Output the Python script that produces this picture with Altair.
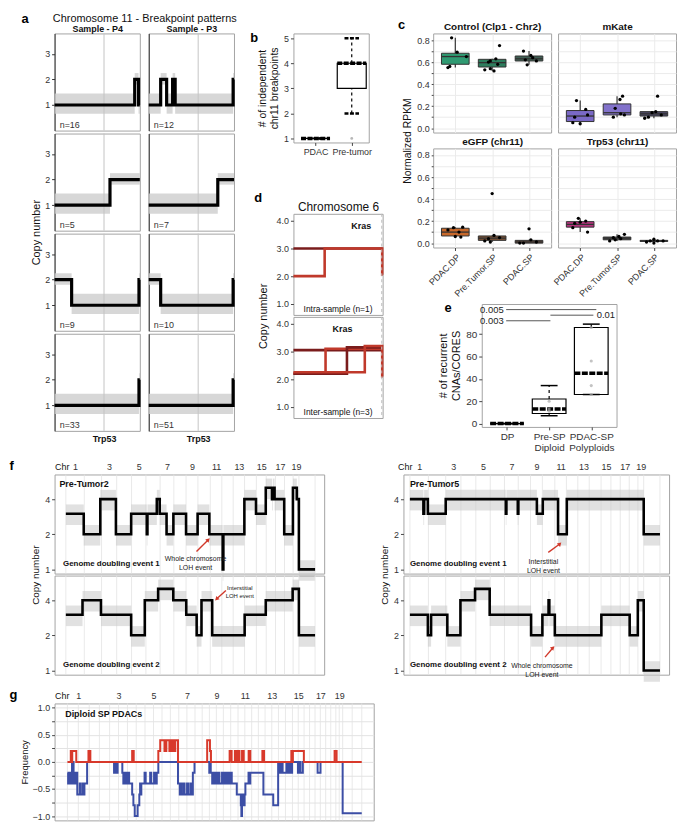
import altair as alt
import pandas as pd

FONT = "Liberation Sans"
FRAME = "#a3a3a3"
LIGHT = "#e3e3e3"
ARROW_RED = "#d1392b"
TC = 200  # tick count large enough to keep every explicit tick value

# ====================== DATA ======================
# ---- a : chromosome 11 breakpoint patterns (x = relative position on chr11) ----
A_SAMPLES = ["Sample - P4", "Sample - P3"]
A_STEPS = [
    [[(0, 1), (0.94, 2), (0.985, 1)], [(0, 1), (0.14, 2), (0.21, 1), (0.28, 2), (0.31, 1), (0.99, 2)]],
    [[(0, 1), (0.65, 2)], [(0, 1), (0.81, 2)]],
    [[(0, 2), (0.2, 1), (0.99, 2)], [(0, 2), (0.14, 1), (0.99, 2)]],
    [[(0, 1), (0.99, 2)], [(0, 1), (0.99, 2)]],
]
A_N = [["n=16", "n=12"], ["n=5", "n=7"], ["n=9", "n=10"], ["n=33", "n=51"]]
A_TRP53 = 0.58
A_NOISE_LO = {1: 0.66, 2: 1.8}
A_NOISE_HI = {1: 1.45, 2: 2.25}

# ---- b ----
B_CATS = ["PDAC", "Pre-tumor"]
B_Q1 = [1, 3]
B_MED = [1, 4]
B_Q3 = [1, 4]
B_LO = [1, 2]
B_HI = [1, 5]
B_OUT_X = [1]
B_OUT_Y = [1]

# ---- c ----
C_PANELS = ["Control (Clp1 - Chr2)", "mKate", "eGFP (chr11)", "Trp53 (chr11)"]
C_GROUPS = ["PDAC.DP", "Pre.Tumor.SP", "PDAC.SP"]
C_COLORS = [["#2f9a72", "#2d7d5d", "#3f5f53"],
            ["#7a69c6", "#8272cb", "#4c4965"],
            ["#c8682a", "#7d5234", "#5e4331"],
            ["#b83480", "#4a4a4a", "#3d3d3d"]]
C_Q1 = [[0.58, 0.555, 0.61], [0.06, 0.12, 0.11], [0.065, 0.025, 0.0], [0.145, 0.03, 0.015]]
C_MED = [[0.65, 0.595, 0.63], [0.11, 0.14, 0.13], [0.10, 0.045, 0.01], [0.17, 0.045, 0.02]]
C_Q3 = [[0.68, 0.625, 0.655], [0.16, 0.22, 0.15], [0.135, 0.065, 0.025], [0.195, 0.055, 0.025]]
C_LO = [[0.55, 0.52, 0.575], [0.04, 0.10, 0.09], [0.055, 0.01, 0.0], [0.10, 0.02, 0.0]]
C_HI = [[0.82, 0.63, 0.70], [0.25, 0.29, 0.15], [0.145, 0.07, 0.03], [0.225, 0.08, 0.035]]
C_PTS = [
    [[0.82, 0.69, 0.65, 0.56, 0.55], [0.75, 0.63, 0.61, 0.60, 0.58, 0.54, 0.53, 0.52], [0.70, 0.66, 0.64, 0.62, 0.61, 0.575]],
    [[0.25, 0.17, 0.12, 0.10, 0.05, 0.04], [0.29, 0.26, 0.18, 0.13, 0.12, 0.10], [0.29, 0.15, 0.14, 0.12, 0.10, 0.09]],
    [[0.145, 0.14, 0.12, 0.10, 0.06, 0.055], [0.45, 0.07, 0.05, 0.04, 0.02, 0.01], [0.13, 0.03, 0.01, 0.0, 0.0]],
    [[0.225, 0.20, 0.19, 0.18, 0.14, 0.10], [0.08, 0.06, 0.05, 0.04, 0.03, 0.02], [0.035, 0.02, 0.02, 0.02, 0.01, 0.0]],
]
C_DX = [
    [[-0.1, 0.05, 0.3, -0.15, -0.2], [0.2, 0.1, -0.05, -0.1, 0.15, -0.05, -0.2, 0.05], [-0.15, 0.05, 0.1, -0.1, 0.2, -0.05]],
    [[-0.1, 0.15, 0.2, -0.15, -0.2, 0.0], [0.15, 0.08, -0.05, 0.1, 0.2, -0.1], [0.1, 0.05, -0.05, 0.2, -0.15, -0.25]],
    [[0.2, -0.05, -0.2, 0.1, 0.0, 0.15], [0.0, 0.05, 0.2, -0.1, -0.2, -0.05], [0.0, 0.05, 0.2, -0.15, -0.25]],
    [[-0.05, 0.15, 0.0, -0.15, -0.2, 0.2], [0.2, 0.05, -0.1, 0.1, -0.05, -0.2], [0.0, 0.25, 0.1, -0.1, -0.2, 0.0]],
]

# ---- d ----
D_TOP_STEPS = [[(0, 3.0)], [(0, 2.0), (0.35, 3.0), (0.995, 2.05)]]
D_TOP_COLORS = ["#7a1c1c", "#c0392b"]
D_BOT_STEPS = [[(0, 3.05)], [(0, 2.2), (0.36, 3.1)], [(0, 2.2), (0.6, 3.15)], [(0, 2.25), (0.8, 3.2), (0.995, 2.1)]]
D_BOT_COLORS = ["#e57a5f", "#8e1b1b", "#a82626", "#6e1111"]
D_KRAS = 0.99
D_KRAS_TX = [0.76, 0.55]
D_LABELS = ["Intra-sample (n=1)", "Inter-sample (n=3)"]

# ---- e ----
E_CATS = [["DP"], ["Pre-SP", "Diploid"], ["PDAC-SP", "Polyploids"]]
E_Q1 = [0, 9, 26]
E_MED = [0, 13, 45]
E_Q3 = [0, 22, 86]
E_LO = [0, 7, 26]
E_HI = [0, 34, 89]
E_PT_X = [1, 1, 1, 2, 2, 2, 2]
E_PT_Y = [20, 11, 13, 86, 56, 34, 26]
E_SIG_TEXT = ["0.005", "0.01", "0.003"]
E_SIG_X1 = [-0.02, 1.03, -0.02]
E_SIG_X2 = [2.12, 2.05, 1.03]
E_SIG_Y = [102, 97, 92]
E_SIG_SIDE = ["left", "right", "left"]

# ---- chromosomes (mouse, Mb) ----
CHR_NAMES = [str(i) for i in range(1, 20)] + ["X"]
CHR_SIZES = [195, 182, 160, 157, 152, 150, 145, 129, 125, 131, 122, 120, 120, 125, 104, 98, 95, 91, 61, 171]

# ---- f : copy-number step profiles (start Mb, copy number) ----
F_L1 = [(0, 3), (189, 2), (364, 4), (529, 2), (690, 3), (855, 2), (862, 3), (961, 4), (992, 3), (1064, 2),
        (1136, 3), (1270, 2), (1392, 3), (1516, 2), (1657, 1), (1664, 2), (1886, 4), (2009, 3), (2112, 5),
        (2178, 4), (2186, 5), (2205, 4), (2307, 2), (2399, 5), (2440, 4), (2462, 1)]
F_L2 = [(0, 3), (176, 4), (371, 3), (690, 2), (834, 4), (975, 5), (1135, 4), (1272, 3), (1382, 2),
        (1433, 4), (1546, 2), (1889, 3), (2112, 4), (2396, 5), (2462, 2)]
F_R1 = [(0, 4), (142, 3), (150, 4), (189, 3), (377, 4), (1010, 3), (1016, 4), (1136, 3), (1142, 4),
        (1337, 3), (1399, 4), (1560, 2), (1652, 4), (2462, 2)]
F_R2 = [(0, 3), (189, 2), (223, 3), (394, 2), (532, 4), (686, 5), (840, 3), (1276, 2), (1395, 3),
        (1460, 4), (1468, 3), (1526, 2), (2016, 3), (2314, 2), (2400, 4), (2462, 1)]
F_NAMES = ["Pre-Tumor2", "Pre-Tumor5"]
F_EVENTS = ["Genome doubling event 1", "Genome doubling event 2"]
F_ANN_TEXT = ["Whole chromosome\nLOH event", "Interstitial\nLOH event",
              "Interstitial\nLOH event", "Whole chromosome\nLOH event"]
F_ANN_X = [1370, 1838, 1406, 1390]
F_ANN_Y = [1.22, 5.1, 1.15, 1.1]
F_ANN_SIZE = [7, 6, 7, 7]
F_ARR_X1 = [1380, 1691, 1457, 1423]
F_ARR_Y1 = [1.42, 4.85, 1.40, 1.30]
F_ARR_X2 = [1500, 1597, 1574, 1502]
F_ARR_Y2 = [1.78, 4.13, 1.64, 1.55]

# ---- g : frequency of gains / losses ----
G_GAIN = [(0, 0), (30, 0.2), (38, 0), (43, 0.2), (79, 0), (188, 0.2), (205, 0), (579, 0.2), (593, 0),
          (813, 0.2), (830, 0.4), (868, 0.2), (885, 0.4), (912, 0.2), (925, 0.4), (935, 0.2), (945, 0.4),
          (955, 0.2), (965, 0.4), (989, 0), (1250, 0.4), (1275, 0.2), (1284, 0), (1451, 0.2), (1469, 0),
          (1498, 0.2), (1510, 0), (1515, 0.2), (1525, 0), (1530, 0.2), (1539, 0), (1562, 0.2), (1577, 0),
          (1621, 0.2), (1636, 0), (1744, 0.2), (1759, 0), (2003, 0.2), (2010, 0), (2017, 0.2), (2115, 0),
          (2390, 0.2), (2408, 0)]
G_LOSS = [(0, -0.2), (6, -0.4), (12, -0.2), (18, -0.4), (26, -0.2), (33, -0.4), (41, 0), (45, -0.4), (50, 0),
          (55, -0.2), (60, -0.4), (66, -0.2), (72, -0.4), (80, -0.2), (88, -0.6), (110, -0.4), (116, -0.6),
          (135, -0.4), (140, -0.6), (152, -0.4), (176, 0),
          (417, -0.2), (425, 0), (432, -0.2), (449, 0),
          (491, -0.2), (500, -0.4), (508, -0.2), (516, -0.4), (525, -0.2), (533, -0.4), (545, -0.2), (552, -0.4),
          (579, -0.6), (590, -0.8), (602, -1.0), (628, -0.8), (643, -0.6), (650, -0.4), (655, -0.6), (661, -0.4),
          (690, -0.2), (700, -0.4), (740, -0.2), (750, -0.4), (775, -0.2), (785, -0.4), (799, -0.2), (813, 0),
          (989, -0.4), (1005, -0.6), (1015, -0.4), (1022, -0.6), (1040, -0.4), (1048, -0.6), (1070, -0.4),
          (1080, -0.6), (1100, -0.4), (1110, -0.6), (1122, -0.2), (1137, 0),
          (1269, -0.2), (1276, 0), (1282, -0.2), (1295, -0.4), (1305, -0.2), (1315, -0.4), (1325, -0.2),
          (1339, -0.4), (1350, -0.2), (1360, -0.4), (1383, -0.2), (1390, -0.4), (1401, -0.2), (1415, -0.4),
          (1430, -0.2), (1445, -0.4), (1460, -0.2), (1470, -0.4), (1515, -0.6), (1551, -0.8), (1556, -1.0),
          (1562, -0.8), (1568, -0.6), (1575, -0.8), (1585, -0.6), (1592, -0.4), (1620, -0.2), (1628, -0.4),
          (1636, -0.2), (1753, -0.6), (1841, -0.8), (1885, 0),
          (1900, -0.2), (1915, 0), (1925, -0.2), (1959, 0), (1974, -0.2), (1990, 0), (2000, -0.2), (2010, 0),
          (2062, -0.2), (2075, 0), (2085, -0.2), (2106, 0), (2238, -0.2), (2264, 0), (2462, -0.95)]

# ====================== helpers ======================
CHR_START = []
_acc = 0
for _s in CHR_SIZES:
    CHR_START.append(_acc)
    _acc += _s
GENOME_END = _acc
CHR_END = [s + z for s, z in zip(CHR_START, CHR_SIZES)]
CHR_MID = [s + z / 2 for s, z in zip(CHR_START, CHR_SIZES)]
ODD = list(range(0, 19, 2))
ODD_MIDS = [CHR_MID[i] for i in ODD]
ODD_EXPR = "''"
for _i in reversed(ODD):
    ODD_EXPR = f"datum.value < {CHR_END[_i]} ? '{CHR_NAMES[_i]}' : ({ODD_EXPR})"

LETTER_STYLE = dict(titleAngle=0, titleAlign="left", titleBaseline="middle", titleFontSize=13,
                    titleFontWeight="bold", titleColor="#000")


def text_title(txt, tx, ty, size=9, weight="bold", align="center"):
    # an axis title used as a freely positioned heading (does not stack in the layout)
    return dict(title=txt, titleX=tx, titleY=ty, titleAngle=0, titleAlign=align, titleBaseline="middle",
                titleFontSize=size, titleFontWeight=weight, titleColor="#111")


def letter_title(ch, tx, ty):
    d = dict(title=ch, titleX=tx, titleY=ty)
    d.update(LETTER_STYLE)
    return d


def bare_axis(**kw):
    d = dict(labels=False, ticks=False, domain=False, grid=False)
    d.update(kw)
    return alt.Axis(**d)


def step_points(steps, end):
    xs = [s for s, _ in steps] + [end]
    ys = [v for _, v in steps] + [steps[-1][1]]
    return pd.DataFrame({"x": xs, "y": ys})


def step_segments(steps, end):
    starts = [s for s, _ in steps]
    return pd.DataFrame({"x": starts, "x2": starts[1:] + [end], "lv": [v for _, v in steps]})


def spacer(w):
    return alt.Chart(pd.DataFrame({"v": [0]})).mark_point(opacity=0).encode(
        x=alt.X("v:Q", axis=None), y=alt.Y("v:Q", axis=None)
    ).properties(width=w, height=2, view=alt.ViewBackground(strokeOpacity=0))


def genome_axis(tx=0):
    kw = dict(orient="top", values=ODD_MIDS, labelExpr=ODD_EXPR, ticks=False, domain=False, tickCount=TC,
              grid=False, labelPadding=3, labelFontSize=9, labelOverlap=False, labelFlush=False,
              title="Chr", titleAngle=0, titleAlign="left", titleBaseline="bottom",
              titleY=-3, titleFontSize=9)
    kw["titleX"] = tx
    return alt.Axis(**kw)


# ====================== panel a ======================
A_W, A_H, A_SP = 86, 98, 9


def a_cell(r, c):
    seg = step_segments(A_STEPS[r][c], 1.0)
    seg["lo"] = seg["lv"].map(A_NOISE_LO)
    seg["hi"] = seg["lv"].map(A_NOISE_HI)
    xs = alt.Scale(domain=[0, 1], nice=False, zero=False)
    ys = alt.Scale(domain=[0, 3.8], nice=False, zero=False)
    yax = dict(values=[1, 2, 3], tickCount=TC, format="d", grid=False, domainColor="#333", tickColor="#333",
               tickSize=3, labelFontSize=9, labelPadding=2)
    if c == 1:
        yax.update(labels=False, ticks=False)
    if r == 1 and c == 0:
        yax.update(title="Copy number", titleY=A_H + 1.5, titleFontSize=11, titlePadding=3)
    elif r == 0 and c == 0:
        yax.update(letter_title("a", -34, -15))
    elif r == 0 and c == 1:
        yax.update(text_title("Chromosome 11 - Breakpoint patterns", -A_SP / 2, -15, size=11, weight="normal"))
    else:
        yax["title"] = None
    if r == 3:
        xax = alt.Axis(values=[A_TRP53], tickCount=TC, labelExpr="'Trp53'", ticks=False, domain=False, grid=False,
                       title=None, labelFontWeight="bold", labelFontSize=9, labelPadding=4, labelColor="#111")
    elif r == 0:
        xax = bare_axis(orient="top", **text_title(A_SAMPLES[c], A_W / 2, -5, size=9))
    else:
        xax = None
    band = alt.Chart(seg).mark_rect(color="#cdcdcd", opacity=0.8).encode(
        x=alt.X("x:Q", scale=xs, axis=xax), x2="x2:Q",
        y=alt.Y("lo:Q", scale=ys, axis=alt.Axis(**yax)), y2="hi:Q")
    trp = alt.Chart(pd.DataFrame({"x": [A_TRP53]})).mark_rule(color="#c4c4c4", strokeWidth=1).encode(x="x:Q")
    line = alt.Chart(step_points(A_STEPS[r][c], 1.0)).mark_line(
        interpolate="step-after", color="black", strokeWidth=3.2).encode(x="x:Q", y="y:Q")
    txt = alt.Chart(pd.DataFrame({"x": [0.06], "y": [0.22], "t": [A_N[r][c]]})).mark_text(
        align="left", fontSize=9, color="#333").encode(x="x:Q", y="y:Q", text="t:N")
    return alt.layer(band, trp, line, txt).properties(width=A_W, height=A_H)


panel_a = alt.concat(*[a_cell(r, c) for r in range(4) for c in range(2)], columns=2, bounds="flush",
                     spacing={"row": 3, "column": A_SP})

# ====================== panel b ======================
B_W, B_H = 76, 110


def cats_expr(cats):
    return "[" + ",".join(f"'{c}'" for c in cats) + "][datum.value]"


bdf = pd.DataFrame({"i": list(range(len(B_CATS))), "q1": B_Q1, "med": B_MED, "q3": B_Q3, "lo": B_LO, "hi": B_HI})
bdf["l"] = bdf.i - 0.4
bdf["r"] = bdf.i + 0.4
bdf["cl"] = bdf.i - 0.2
bdf["cr"] = bdf.i + 0.2
bxs = alt.Scale(domain=[-0.61, 1.47], nice=False, zero=False)
bys = alt.Scale(domain=[0.84, 5.19], nice=False, zero=False)
bbase = alt.Chart(bdf)
b_xax = dict(values=[0, 1], tickCount=TC, labelExpr=cats_expr(B_CATS), grid=False, domain=False, tickSize=3,
             labelFontSize=9)
b_xax.update(letter_title("b", -44, -B_H + 4))
b_box = bbase.mark_rect(fill="white", stroke="black", strokeWidth=1.2).encode(
    x=alt.X("l:Q", scale=bxs, axis=alt.Axis(**b_xax)),
    x2="r:Q",
    y=alt.Y("q1:Q", scale=bys, axis=alt.Axis(values=[1, 2, 3, 4, 5], tickCount=TC, format="d",
                                             title=["# of independent", "chr11 breakpoints"],
                                             grid=False, domain=False, tickSize=3, labelFontSize=9, titleFontSize=10.5)),
    y2="q3:Q")
b_wu = bbase.mark_rule(color="black", strokeDash=[3, 3], strokeWidth=1.2).encode(x="i:Q", y="q3:Q", y2="hi:Q")
b_wl = bbase.mark_rule(color="black", strokeDash=[3, 3], strokeWidth=1.2).encode(x="i:Q", y="lo:Q", y2="q1:Q")
b_ch = bbase.mark_rule(color="black", strokeWidth=2.5, strokeDash=[4, 1.5]).encode(x="cl:Q", x2="cr:Q", y="hi:Q")
b_cl = bbase.mark_rule(color="black", strokeWidth=2.5, strokeDash=[4, 1.5]).encode(x="cl:Q", x2="cr:Q", y="lo:Q")
b_med = bbase.mark_rule(color="black", strokeWidth=3.5, strokeDash=[5, 1.5]).encode(x="l:Q", x2="r:Q", y="med:Q")
b_out = alt.Chart(pd.DataFrame({"x": B_OUT_X, "y": B_OUT_Y})).mark_point(
    color="#999", size=8, filled=True).encode(x="x:Q", y="y:Q")
panel_b = alt.layer(b_box, b_wu, b_wl, b_ch, b_cl, b_med, b_out).properties(width=B_W, height=B_H)

# ====================== panel d ======================
D_W, D_H = 90, 102


def d_panel(steps_list, colors, kras_tx, label, top):
    parts = []
    for k, st in enumerate(steps_list):
        d = step_points(st, 1.0)
        d["s"] = f"s{k}"
        parts.append(d)
    df = pd.concat(parts, ignore_index=True)
    xs = alt.Scale(domain=[0, 1], nice=False, zero=False)
    ys = alt.Scale(domain=[0.6, 4.25], nice=False, zero=False)
    yax = dict(values=[1, 2, 3, 4], tickCount=TC, format=".1f", grid=False, domain=False, tickSize=3,
               labelFontSize=9)
    if top:
        yax.update(title="Copy number", titleY=D_H + 1, titleFontSize=11, titlePadding=8)
        xax = bare_axis(**text_title("Chromosome 6", D_W / 2, -D_H - 7, size=12, weight="normal"))
    else:
        yax.update(letter_title("d", -40, -D_H - 2 - 16))
        xax = None
    lines = alt.Chart(df).mark_line(interpolate="step-after", strokeWidth=2.6).encode(
        x=alt.X("x:Q", scale=xs, axis=xax),
        y=alt.Y("y:Q", scale=ys, axis=alt.Axis(**yax)),
        color=alt.Color("s:N", scale=alt.Scale(domain=[f"s{k}" for k in range(len(colors))], range=colors), legend=None))
    kras = alt.Chart(pd.DataFrame({"x": [D_KRAS]})).mark_rule(color="#bdbdbd", strokeDash=[3, 3]).encode(x="x:Q")
    ktxt = alt.Chart(pd.DataFrame({"x": [kras_tx], "y": [3.82], "t": ["Kras"]})).mark_text(
        fontSize=9, fontWeight="bold", color="#111").encode(x="x:Q", y="y:Q", text="t:N")
    ltxt = alt.Chart(pd.DataFrame({"x": [0.5], "y": [0.8], "t": [label]})).mark_text(
        fontSize=8.5, color="#111").encode(x="x:Q", y="y:Q", text="t:N")
    return alt.layer(lines, kras, ktxt, ltxt).properties(width=D_W, height=D_H)


panel_d = alt.vconcat(d_panel(D_TOP_STEPS, D_TOP_COLORS, D_KRAS_TX[0], D_LABELS[0], True),
                      d_panel(D_BOT_STEPS, D_BOT_COLORS, D_KRAS_TX[1], D_LABELS[1], False),
                      spacing=2, bounds="flush")

# ====================== panel c ======================
C_W, C_H, C_SP = 119, 100, 7


def c_panel(p):
    row, col = divmod(p, 2)
    bd = pd.DataFrame({"i": [0, 1, 2], "q1": C_Q1[p], "med": C_MED[p], "q3": C_Q3[p], "lo": C_LO[p],
                       "hi": C_HI[p], "col": C_COLORS[p]})
    bd["l"] = bd.i - 0.375
    bd["r"] = bd.i + 0.375
    pi, pv, pdx = [], [], []
    for k in range(3):
        pi += [k] * len(C_PTS[p][k])
        pv += C_PTS[p][k]
        pdx += C_DX[p][k]
    pts = pd.DataFrame({"i": pi, "v": pv, "dx": pdx})
    pts["x"] = pts.i + pts.dx
    xs = alt.Scale(domain=[-0.6, 2.6], nice=False, zero=False)
    ys = alt.Scale(domain=[-0.04, 0.86], nice=False, zero=False)
    yvals = [round(0.1 * k, 1) for k in range(9)]
    yax = dict(values=yvals, tickCount=TC, grid=True, gridColor="#ebebeb", domain=False, tickSize=2, labelFontSize=9,
               labelExpr="round(datum.value*10) % 2 == 0 ? format(datum.value, '.1f') : ''")
    if col == 1:
        yax.update(labels=False, ticks=False, title=None)
    elif row == 0:
        yax.update(letter_title("c", -36, -9))
    else:
        yax.update(title="Normalized RPKM", titleY=-8, titleFontSize=10.5, titlePadding=4)
    xax = dict(values=[0, 1, 2], tickCount=TC, grid=True, gridColor="#ebebeb", domain=False)
    if row == 1:
        xax.update(labelExpr=cats_expr(C_GROUPS), labelAngle=-45, labelFontSize=9, tickSize=3, labelOverlap=False)
        xax.update(text_title(C_PANELS[p], C_W / 2, -C_H - 7, size=10))
    else:
        xax.update(orient="top", labels=False, ticks=False)
        xax.update(text_title(C_PANELS[p], C_W / 2, -7, size=10))
    whisk = alt.Chart(bd).mark_rule(color="#333", strokeWidth=1.2).encode(
        x=alt.X("i:Q", scale=xs, axis=alt.Axis(**xax)),
        y=alt.Y("lo:Q", scale=ys, axis=alt.Axis(**yax)), y2="hi:Q")
    box = alt.Chart(bd).mark_rect(stroke="#333", strokeWidth=1).encode(
        x="l:Q", x2="r:Q", y="q1:Q", y2="q3:Q", color=alt.Color("col:N", scale=None))
    med = alt.Chart(bd).mark_rule(color="#333", strokeWidth=1.3).encode(x="l:Q", x2="r:Q", y="med:Q")
    dots = alt.Chart(pts).mark_circle(size=11, color="black", opacity=1).encode(x="x:Q", y="v:Q")
    return alt.layer(whisk, box, med, dots).properties(width=C_W, height=C_H)


panel_c = alt.concat(*[c_panel(p) for p in range(4)], columns=2, bounds="flush",
                     spacing={"row": 16, "column": C_SP})

# ====================== panel e ======================
E_W, E_H = 136, 124
edf = pd.DataFrame({"i": [0, 1, 2], "q1": E_Q1, "med": E_MED, "q3": E_Q3, "lo": E_LO, "hi": E_HI})
edf["l"] = edf.i - 0.4
edf["r"] = edf.i + 0.4
edf["cl"] = edf.i - 0.2
edf["cr"] = edf.i + 0.2
exs = alt.Scale(domain=[-0.6, 2.6], nice=False, zero=False)
eys = alt.Scale(domain=[-3, 107], nice=False, zero=False)
e_lab = "[" + ",".join("[" + ",".join(f"'{t}'" for t in c) + "]" for c in E_CATS) + "][datum.value]"
e_xax = dict(values=[0, 1, 2], tickCount=TC, labelExpr=e_lab, grid=False, domain=False, tickSize=3,
             labelFontSize=10, labelLineHeight=11)
e_xax.update(letter_title("e", -38, -E_H + 4))
ebase = alt.Chart(edf)
e_box = ebase.mark_rect(fill="white", stroke="black", strokeWidth=1.2).encode(
    x=alt.X("l:Q", scale=exs, axis=alt.Axis(**e_xax)),
    x2="r:Q",
    y=alt.Y("q1:Q", scale=eys, axis=alt.Axis(values=[0, 20, 40, 60, 80], tickCount=TC, format="d",
                                             title=["# of recurrent", "CNAs/CORES"],
                                             grid=False, domain=False, tickSize=3, labelFontSize=10, titleFontSize=11)),
    y2="q3:Q")
e_wu = ebase.mark_rule(color="black", strokeDash=[3, 3], strokeWidth=1.2).encode(x="i:Q", y="q3:Q", y2="hi:Q")
e_wl = ebase.mark_rule(color="black", strokeDash=[3, 3], strokeWidth=1.2).encode(x="i:Q", y="lo:Q", y2="q1:Q")
e_ch = ebase.mark_rule(color="black", strokeWidth=1.5).encode(x="cl:Q", x2="cr:Q", y="hi:Q")
e_cl = ebase.mark_rule(color="black", strokeWidth=1.5).encode(x="cl:Q", x2="cr:Q", y="lo:Q")
e_med = ebase.mark_rule(color="black", strokeWidth=3.5, strokeDash=[6, 1.5]).encode(x="l:Q", x2="r:Q", y="med:Q")
e_pts = alt.Chart(pd.DataFrame({"x": E_PT_X, "y": E_PT_Y})).mark_point(
    color="#aaaaaa", size=10, filled=True).encode(x="x:Q", y="y:Q")
sig = pd.DataFrame({"x1": E_SIG_X1, "x2": E_SIG_X2, "y": E_SIG_Y, "t": E_SIG_TEXT, "side": E_SIG_SIDE})
sig["tx"] = [a - 0.06 if s == "left" else b + 0.08 for a, b, s in zip(sig.x1, sig.x2, sig.side)]
e_sig = alt.Chart(sig).mark_rule(color="#555", strokeWidth=1).encode(x="x1:Q", x2="x2:Q", y="y:Q")
e_tl = alt.Chart(sig).transform_filter("datum.side == 'left'").mark_text(
    align="right", fontSize=9.5, color="#222").encode(x="tx:Q", y="y:Q", text="t:N")
e_tr = alt.Chart(sig).transform_filter("datum.side == 'right'").mark_text(
    align="left", fontSize=9.5, color="#222").encode(x="tx:Q", y="y:Q", text="t:N")
panel_e = alt.layer(e_box, e_wu, e_wl, e_ch, e_cl, e_med, e_pts, e_sig, e_tl, e_tr).properties(
    width=E_W, height=E_H)

# ====================== panel f ======================
F_H = 100
F_YDOM = [0.92, 6.5]


def f_panel(steps, xdom, w, top, name, event, k, name_x, event_x, chr_tx, letter=None):
    xs = alt.Scale(domain=xdom, nice=False, zero=False)
    ys = alt.Scale(type="log", domain=F_YDOM, nice=False)
    if top:
        xax = genome_axis(chr_tx)
    elif letter:
        xax = bare_axis(**letter_title(letter, -46, -2 * F_H - 2 - 9))
    else:
        xax = None
    grid = alt.Chart(pd.DataFrame({"x": CHR_START + [GENOME_END]})).mark_rule(
        color=LIGHT, strokeWidth=0.8).encode(x=alt.X("x:Q", scale=xs, axis=xax))
    seg = step_segments(steps, GENOME_END)
    seg["lo"] = seg.lv * 0.8
    seg["hi"] = seg.lv * 1.2
    yax = dict(values=[1, 2, 4], tickCount=TC, format="d", grid=False, domain=False, tickSize=3, labelFontSize=9)
    if top:
        yax.update(title="Copy number", titleY=F_H + 1, titleFontSize=10, titlePadding=4)
    else:
        yax["title"] = None
    band = alt.Chart(seg).mark_rect(color="#c9c9c9", opacity=0.55).encode(
        x="x:Q", x2="x2:Q", y=alt.Y("lo:Q", scale=ys, axis=alt.Axis(**yax)), y2="hi:Q")
    line = alt.Chart(step_points(steps, GENOME_END)).mark_line(
        interpolate="step-after", color="black", strokeWidth=2.6).encode(x="x:Q", y="y:Q")
    layers = [grid, band, line]
    if name:
        layers.append(alt.Chart(pd.DataFrame({"x": [name_x], "y": [5.35], "t": [name]})).mark_text(
            align="left", fontSize=9, fontWeight="bold", color="#111").encode(x="x:Q", y="y:Q", text="t:N"))
    layers.append(alt.Chart(pd.DataFrame({"x": [event_x], "y": [1.12], "t": [event]})).mark_text(
        align="left", fontSize=8, fontWeight="bold", color="#111").encode(x="x:Q", y="y:Q", text="t:N"))
    layers.append(alt.Chart(pd.DataFrame({"x": [F_ANN_X[k]], "y": [F_ANN_Y[k]], "t": [F_ANN_TEXT[k]]})).mark_text(
        align="center", baseline="middle", lineBreak="\n", fontSize=F_ANN_SIZE[k], color="#222").encode(
        x="x:Q", y="y:Q", text="t:N"))
    arr = pd.DataFrame({"x1": [F_ARR_X1[k]], "y1": [F_ARR_Y1[k]], "x2": [F_ARR_X2[k]], "y2": [F_ARR_Y2[k]]})
    layers.append(alt.Chart(arr).mark_rule(color=ARROW_RED, strokeWidth=1.4).encode(
        x="x1:Q", y="y1:Q", x2="x2:Q", y2="y2:Q"))
    ang = 225 if F_ARR_Y2[k] < F_ARR_Y1[k] else 45
    layers.append(alt.Chart(arr).mark_point(shape="triangle", filled=True, size=22, color=ARROW_RED,
                                            opacity=1, angle=ang).encode(x="x2:Q", y="y2:Q"))
    return alt.layer(*layers).properties(width=w, height=F_H)


f_left = alt.vconcat(f_panel(F_L1, [-119, 2729], 272, True, F_NAMES[0], F_EVENTS[0], 0, -68, -30, 0),
                     f_panel(F_L2, [-119, 2729], 272, False, None, F_EVENTS[1], 1, -68, -30, 0, letter="f"),
                     spacing=2, bounds="flush")
f_right = alt.vconcat(f_panel(F_R1, [-68, 2729], 268, True, F_NAMES[1], F_EVENTS[0], 2, 0, 0, -6),
                      f_panel(F_R2, [-68, 2729], 268, False, None, F_EVENTS[1], 3, 0, 0, -6),
                      spacing=2, bounds="flush")
row_f = alt.hconcat(f_left, f_right, spacing=54)

# ====================== panel g ======================
G_W, G_H = 322, 118
gxs = alt.Scale(domain=[-115, 2740], nice=False, zero=False)
gys = alt.Scale(domain=[-1.08, 1.08], nice=False, zero=False)
g_grid = alt.Chart(pd.DataFrame({"x": CHR_START + [GENOME_END] + CHR_MID})).mark_rule(
    color=LIGHT, strokeWidth=0.8).encode(x=alt.X("x:Q", scale=gxs, axis=genome_axis(0)))
g_loss = alt.Chart(step_points(G_LOSS, GENOME_END)).mark_line(
    interpolate="step-after", color="#3c4ea5", strokeWidth=2).encode(
    x="x:Q",
    y=alt.Y("y:Q", scale=gys, axis=alt.Axis(values=[-1, -0.75, -0.5, -0.25, 0, 0.25, 0.5, 0.75, 1], tickCount=TC,
                                            grid=True, gridColor=LIGHT, domain=False, tickSize=3, labelFontSize=9,
                                            labelExpr="round(datum.value*4) % 2 == 0 ? format(datum.value, '.1f') : ''",
                                            title="Frequency", titleFontSize=9.5, titlePadding=3)))
g_gain = alt.Chart(step_points(G_GAIN, GENOME_END)).mark_line(
    interpolate="step-after", color="#d8392b", strokeWidth=2).encode(x="x:Q", y="y:Q")
g_txt = alt.Chart(pd.DataFrame({"x": [-20], "y": [0.88], "t": ["Diploid SP PDACs"]})).mark_text(
    align="left", fontSize=9, fontWeight="bold", color="#111").encode(x="x:Q", y="y:Q", text="t:N")
g_main = alt.layer(g_grid, g_loss, g_gain, g_txt)
g_letter = alt.Chart(pd.DataFrame({"v": [0]})).mark_point(opacity=0).encode(
    x=alt.X("v:Q", axis=bare_axis(orient="bottom", **letter_title("g", -46, -G_H - 9))))
panel_g = alt.layer(g_main, g_letter).resolve_scale(x="independent").properties(width=G_W, height=G_H)

# ====================== assemble ======================
col_bd = alt.vconcat(panel_b, panel_d, spacing=34)
col_ce = alt.vconcat(panel_c, alt.hconcat(spacer(1), panel_e, spacing=0), spacing=2)
row1 = alt.hconcat(panel_a, col_bd, col_ce, spacing=8)

chart = alt.vconcat(row1, row_f, panel_g, spacing=5).properties(
    padding={"left": 0, "top": 0, "right": 0, "bottom": 0}
).configure(font=FONT).configure_view(stroke=FRAME, strokeWidth=1).configure_axis(
    labelFont=FONT, titleFont=FONT, labelColor="#333", titleColor="#111", tickColor="#444",
    domainColor="#444", titleFontWeight="normal"
).configure_title(font=FONT, fontSize=11, fontWeight="normal", color="#111")

chart.save("out.html", embed_options={"renderer": "svg", "actions": False})
